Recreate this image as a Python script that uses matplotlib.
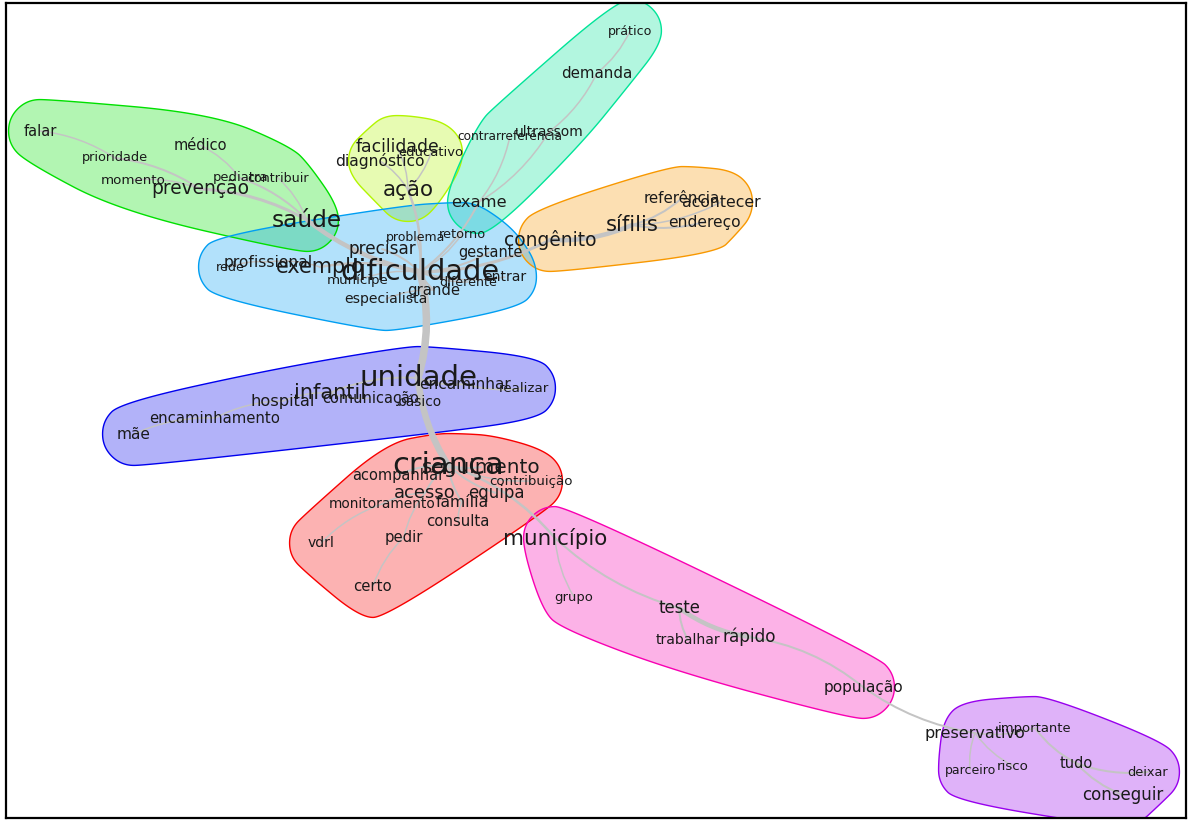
import numpy as np
import matplotlib
matplotlib.use('Agg')
import matplotlib.pyplot as plt
from matplotlib.path import Path
from matplotlib.patches import PathPatch, Polygon

# similarity tree : words, layout position, font size (frequency), community
WORDS = ['falar', 'prioridade', 'momento', 'médico', 'pediatra', 'contribuir', 'prevenção', 'saúde',
         'facilidade', 'educativo', 'diagnóstico', 'ação',
         'prático', 'demanda', 'ultrassom', 'contrarreferência', 'exame',
         'referência', 'acontecer', 'sífilis', 'endereço', 'congênito',
         'problema', 'retorno', 'precisar', 'gestante', 'profissional', 'rede', 'exemplo',
         'dificuldade', 'munícipe', 'diferente', 'entrar', 'grande', 'especialista',
         'unidade', 'encaminhar', 'realizar', 'infantil', 'comunicação', 'básico', 'hospital',
         'encaminhamento', 'mãe',
         'criança', 'seguimento', 'acompanhar', 'contribuição', 'acesso', 'equipa',
         'monitoramento', 'família', 'consulta', 'pedir', 'vdrl', 'certo',
         'município', 'grupo', 'teste', 'trabalhar', 'rápido', 'população',
         'preservativo', 'importante', 'parceiro', 'risco', 'tudo', 'deixar', 'conseguir']
POS_X = [40, 115, 133, 200, 240, 278, 200, 307,
         397, 431, 380, 408,
         630, 597, 549, 510, 479,
         682, 721, 632, 704, 550,
         416, 462, 382, 490, 268, 230, 320,
         420, 358, 468, 505, 434, 386,
         418, 465, 524, 330, 371, 420, 283,
         215, 134,
         448, 481, 398, 531, 425, 496,
         382, 462, 458, 404, 321, 373,
         555, 574, 679, 688, 749, 863,
         975, 1035, 970, 1013, 1076, 1148, 1123]
POS_Y = [131, 158, 180, 145, 178, 178, 189, 220,
         147, 153, 161, 190,
         31, 73, 132, 136, 202,
         198, 202, 225, 222, 240,
         237, 234, 249, 252, 262, 267, 267,
         272, 280, 282, 277, 290, 299,
         378, 384, 388, 393, 398, 402, 401,
         418, 434,
         465, 467, 475, 481, 493, 493,
         504, 502, 521, 537, 543, 586,
         538, 597, 608, 640, 637, 687,
         733, 728, 770, 766, 763, 772, 795]
FSIZE = [11, 9.7, 10, 11, 9.8, 9.5, 14, 17.4,
         12.9, 9.8, 11.6, 16,
         9.5, 11.3, 10.4, 9.1, 12.3,
         11.3, 11.8, 15.8, 11.6, 14,
         9.4, 9.7, 12.7, 10.9, 11.6, 9.5, 15.6,
         21.6, 10, 9.5, 10.5, 11.2, 10.5,
         21.9, 11.5, 10, 15.6, 11, 10.3, 12.2,
         11.2, 11.5,
         23, 15, 11, 10, 13.4, 12.5,
         10.3, 11.7, 11.2, 11.2, 10.5, 11.2,
         16, 9.8, 12.4, 10.5, 12.7, 11.5,
         12, 9.8, 9.4, 10, 11, 9.7, 12.5]
GROUP = [0] * 8 + [1] * 4 + [2] * 5 + [3] * 5 + [4] * 13 + [5] * 9 + [6] * 12 + [7] * 6 + [8] * 7

GROUP_COLORS = ['#00e000', '#b2f500', '#00e498', '#f89800', '#009ef2',
                '#0000ee', '#f80000', '#f800b2', '#9800ee']

EDGES = [('saúde', 'dificuldade', 4.5), ('dificuldade', 'unidade', 7.5), ('unidade', 'criança', 6.5),
         ('criança', 'município', 2.5), ('município', 'grupo', 1.5), ('município', 'teste', 2),
         ('teste', 'rápido', 4.5), ('teste', 'trabalhar', 2), ('rápido', 'população', 2),
         ('população', 'preservativo', 2), ('preservativo', 'parceiro', 1.5),
         ('preservativo', 'risco', 1.5), ('preservativo', 'importante', 1.5),
         ('importante', 'tudo', 2), ('tudo', 'conseguir', 2), ('tudo', 'deixar', 2),
         ('saúde', 'prevenção', 3), ('prevenção', 'prioridade', 2), ('prioridade', 'falar', 1.5),
         ('prevenção', 'momento', 1.5), ('saúde', 'pediatra', 2), ('pediatra', 'médico', 1.5),
         ('saúde', 'contribuir', 1.5),
         ('dificuldade', 'ação', 2.5), ('ação', 'facilidade', 1.5), ('ação', 'diagnóstico', 1.5),
         ('ação', 'educativo', 1.5),
         ('dificuldade', 'exame', 2), ('exame', 'contrarreferência', 1.5), ('exame', 'ultrassom', 1.5),
         ('ultrassom', 'demanda', 1.5), ('demanda', 'prático', 1.5),
         ('dificuldade', 'congênito', 3), ('congênito', 'sífilis', 4.5), ('sífilis', 'referência', 2),
         ('sífilis', 'acontecer', 1.5), ('sífilis', 'endereço', 2),
         ('dificuldade', 'exemplo', 2.5), ('exemplo', 'profissional', 1.5), ('profissional', 'rede', 1.5),
         ('dificuldade', 'precisar', 2), ('dificuldade', 'problema', 1.5), ('dificuldade', 'retorno', 1.5),
         ('dificuldade', 'gestante', 2), ('dificuldade', 'entrar', 1.5), ('dificuldade', 'diferente', 1.5),
         ('dificuldade', 'grande', 2), ('grande', 'especialista', 1.5), ('dificuldade', 'munícipe', 1.5),
         ('unidade', 'encaminhar', 2), ('encaminhar', 'realizar', 1.5), ('unidade', 'básico', 1.5),
         ('unidade', 'infantil', 2), ('infantil', 'comunicação', 1.5), ('infantil', 'hospital', 1.5),
         ('hospital', 'encaminhamento', 1.5), ('encaminhamento', 'mãe', 1.5),
         ('criança', 'seguimento', 2), ('criança', 'acompanhar', 2), ('criança', 'contribuição', 1.5),
         ('criança', 'acesso', 2), ('criança', 'equipa', 2), ('criança', 'família', 2),
         ('família', 'consulta', 1.5), ('acesso', 'monitoramento', 1.5), ('monitoramento', 'vdrl', 1.5),
         ('acesso', 'pedir', 1.5), ('pedir', 'certo', 1.5)]
# edges that bow the other way in the drawing
FLIP = {('dificuldade', 'unidade'), ('criança', 'município'), ('rápido', 'população')}


def convex_hull(pts):
    pts = sorted(set(map(tuple, np.round(pts, 3))))
    def cross(o, a, b):
        return (a[0]-o[0])*(b[1]-o[1]) - (a[1]-o[1])*(b[0]-o[0])
    lower, upper = [], []
    for p in pts:
        while len(lower) >= 2 and cross(lower[-2], lower[-1], p) <= 0:
            lower.pop()
        lower.append(p)
    for p in reversed(pts):
        while len(upper) >= 2 and cross(upper[-2], upper[-1], p) <= 0:
            upper.pop()
        upper.append(p)
    return np.array(lower[:-1] + upper[:-1])


def chaikin(poly, n=5):
    for _ in range(n):
        nxt = np.roll(poly, -1, axis=0)
        poly = np.concatenate([np.c_[0.75*poly + 0.25*nxt], np.c_[0.25*poly + 0.75*nxt]], axis=1)
        poly = poly.reshape(-1, 2)
    return poly


X = np.array(POS_X, float); Y = np.array(POS_Y, float)
IDX = {w: i for i, w in enumerate(WORDS)}
PX = 1.0 / (100/72.)   # px -> pt at dpi 100

fig = plt.figure(figsize=(11.9, 8.21), dpi=100)
ax = fig.add_axes([6/1190, 3/821, 1180/1190, 815/821])
ax.set_xlim(6, 1186); ax.set_ylim(818, 3)
ax.set_xticks([]); ax.set_yticks([])
for s in ax.spines.values():
    s.set_linewidth(1.6); s.set_color('black')

# community blobs : smoothed hull of padded nodes
PAD = 34
theta = np.linspace(0, 2*np.pi, 8, endpoint=False) + np.pi/8
GRP = np.array(GROUP)
for g, col in enumerate(GROUP_COLORS):
    sel = np.where(GRP == g)[0]
    pts = np.concatenate([np.c_[X[i] + PAD*np.cos(theta), Y[i] + PAD*np.sin(theta)] for i in sel])
    hull = chaikin(convex_hull(pts), 5)
    ax.add_patch(Polygon(hull, closed=True, facecolor=col, alpha=0.3, lw=0, zorder=1))
    ax.add_patch(Polygon(hull, closed=True, facecolor='none', edgecolor=col, lw=1.0, zorder=1.5))

# edges as slightly curved lines
for a, b, w in EDGES:
    p0 = np.array([X[IDX[a]], Y[IDX[a]]]); p1 = np.array([X[IDX[b]], Y[IDX[b]]])
    d = p1 - p0
    nrm = np.array([-d[1], d[0]])
    k = -0.14 if (a, b) in FLIP else 0.12
    ctrl = (p0 + p1)/2 + k*nrm
    path = Path([p0, ctrl, p1], [Path.MOVETO, Path.CURVE3, Path.CURVE3])
    ax.add_patch(PathPatch(path, facecolor='none', edgecolor='#c4c4c4', lw=w*PX,
                           capstyle='round', zorder=2))

for i, w in enumerate(WORDS):
    ax.text(X[i], Y[i], w, fontsize=FSIZE[i]*0.96, ha='center', va='center',
            color='#1a1a1a', family='DejaVu Sans', zorder=3)

fig.savefig('out.png', dpi=100)
